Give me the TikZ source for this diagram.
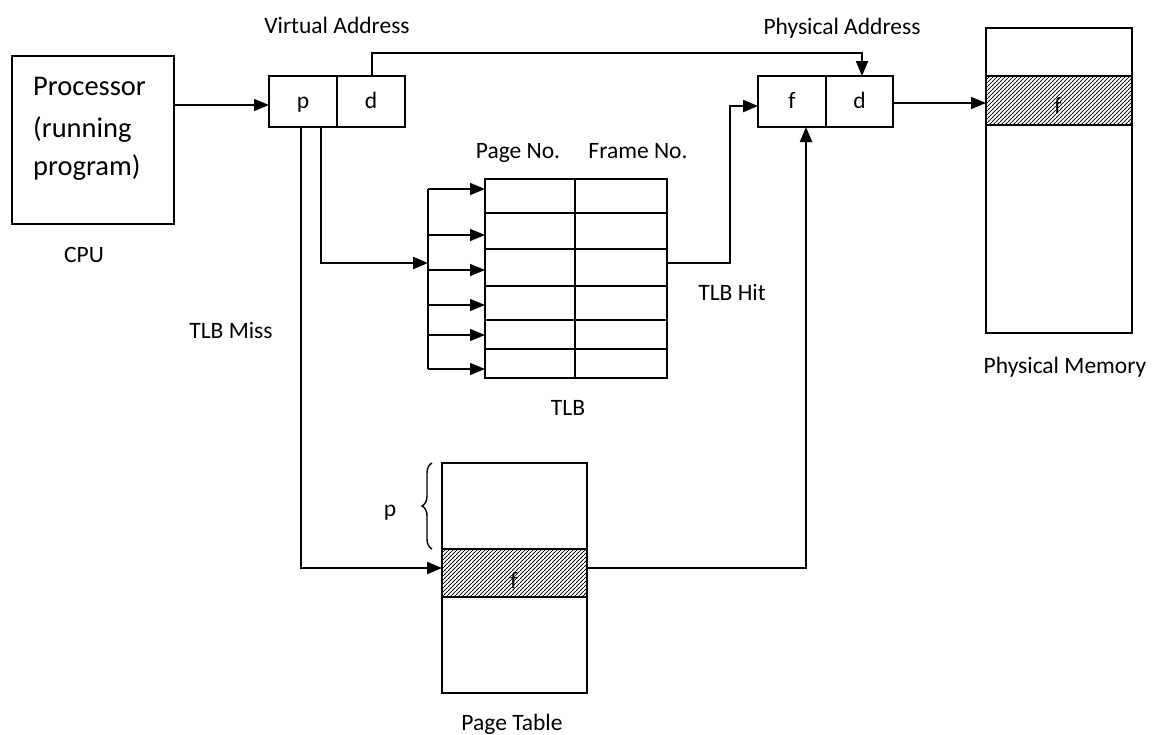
\documentclass[tikz,border=0pt]{standalone}
\usepackage{fontspec}
\setmainfont{Carlito}
\usetikzlibrary{arrows.meta,patterns.meta,decorations.pathreplacing}
\tikzdeclarepattern{
  name=hatchne,
  parameters={},
  bounding box={(0pt,0pt) and (4pt,4pt)},
  tile size={(4pt,4pt)},
  code={\draw[line width=0.9pt] (-1pt,-1pt) -- (5pt,5pt);}
}
\begin{document}
\begin{tikzpicture}[x=1pt,y=-1pt,
  box/.style={draw, line width=1.8pt, inner sep=0pt, outer sep=0pt, anchor=north west},
  cell/.style={box, minimum width=68pt, minimum height=51pt, text height=13pt, text depth=0pt, font=\fontsize{23.5}{28}\selectfont},
  hatch/.style={box, pattern=hatchne},
  lbl/.style={font=\fontsize{23.5}{28}\selectfont, inner sep=0pt, anchor=base},
  big/.style={font=\fontsize{28.5}{40}\selectfont, inner sep=0pt, anchor=base west},
  conn/.style={line width=1.9pt, -{Triangle[length=15pt,width=12pt]}},
  grid/.style={line width=2.2pt}]
\useasboundingbox (0,0) rectangle (1156,734);

% CPU
\node[box, minimum width=162pt, minimum height=168pt] (cpu) at (12,56) {};
\node[big] (cpu1) at (33,95) {Processor};
\node[big] (cpu2) at (33,137) {(running};
\node[big] (cpu3) at (33,175) {program)};
\node[lbl] (cpul) at (84,262) {CPU};

% Virtual address
\node[cell] (vp) at (269,76) {p};
\node[cell] (vd) at (337,76) {d};
\node[lbl] (val) at (337,33) {Virtual Address};

% Physical address
\node[cell] (pf) at (758,76) {f};
\node[cell, minimum width=67pt] (pd) at (826,76) {d};
\node[lbl] (pal) at (842,34) {Physical Address};

% Physical memory
\node[box, minimum width=146pt, minimum height=305pt] (mem) at (986,28) {};
\node[hatch, minimum width=146pt, minimum height=49pt] (memf) at (986,76) {};
\node[lbl] (memft) at (1058,113) {f};
\node[lbl] (meml) at (1065,373) {Physical Memory};

% TLB
\node[box, minimum width=182pt, minimum height=199pt] (tlb) at (485,179) {};
\draw[grid] (575,179) -- (575,378);
\foreach \yy in {213,249,286,320,349} \draw[grid] (485,\yy) -- (667,\yy);
\node[lbl] (pno) at (518,158) {Page No.};
\node[lbl] (fno) at (638,158) {Frame No.};
\node[lbl] (tlbl) at (568,415) {TLB};
\node[lbl] (hitl) at (732,300) {TLB Hit};
\node[lbl] (missl) at (231,338) {TLB Miss};

% Page table
\node[box, minimum width=145pt, minimum height=230pt] (pt) at (442,463) {};
\node[hatch, minimum width=145pt, minimum height=48pt] (ptf) at (442,549) {};
\node[lbl] (ptft) at (514,588) {f};
\node[lbl] (ptl) at (512,730) {Page Table};
\draw[line width=1.4pt, decorate, decoration={brace, amplitude=10pt}] (ptf.north west) ++(-10,0) coordinate (brb) -- (pt.north west -| brb);
\node[lbl] (pbr) at (390,516) {p};

% coordinates
\coordinate (cpuout) at (174,105);
\coordinate (pin) at (321,127);
\coordinate (pmiss) at (301,127);
\coordinate (busin) at (428,263);
\coordinate (bustop) at (428,189);
\coordinate (busbot) at (428,369);
\coordinate (ptin) at (442,568);
\coordinate (ptout) at (587,568);
\coordinate (pfbot) at (806,127);
\coordinate (tlbout) at (667,263);
\coordinate (pfin) at (758,106);
\coordinate (vdtop) at (372,76);
\coordinate (pdtop) at (862,76);
\coordinate (pdout) at (893,103);
\coordinate (memin) at (986,103);

% connectors
\draw[conn, line width=1.5pt] (cpuout) -- (cpuout -| vp.west);
\draw[conn, line width=2.2pt] (vdtop) -- ++(0,-23) -| (pdtop);
\draw[conn, line width=1.5pt] (pdout) -- (memin);
\draw[conn, line width=2.2pt] (pin) |- (busin);
\draw[line width=2.8pt] (bustop) -- (busbot);
\foreach \yy in {189,235,270,305,335,369} \draw[conn, line width=1.5pt] (428,\yy) -- (485,\yy);
\draw[conn, line width=2.2pt] (pmiss) |- (ptin);
\draw[conn, line width=2.2pt] (ptout) -| (pfbot);
\draw[conn, line width=2.2pt] (tlbout) -- ++(63,0) |- (pfin);
\end{tikzpicture}
\end{document}
